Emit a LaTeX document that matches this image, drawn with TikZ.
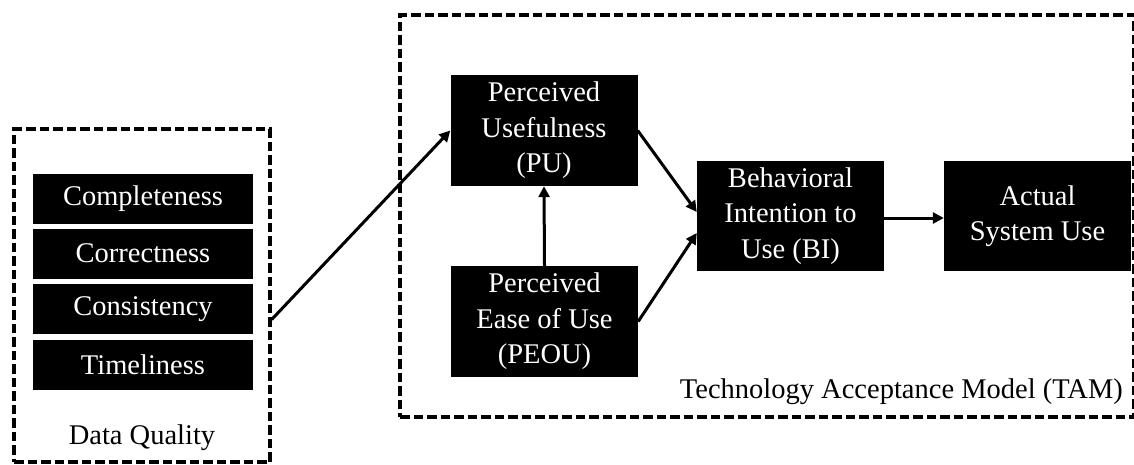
\documentclass[tikz,border=0pt]{standalone}
\usepackage{fontspec}
\setmainfont{Liberation Serif}
\usetikzlibrary{arrows.meta}
\begin{document}
\begin{tikzpicture}[x=1pt,y=-1pt,
  blk/.style={fill=black,text=white,inner sep=0pt,align=center,
    font=\fontsize{28.5}{35.5}\selectfont},
  dqitem/.style={blk,minimum width=220pt,minimum height=50pt},
  tambox/.style={blk,minimum width=187pt,minimum height=111pt},
  frame/.style={draw=black,line width=3.4pt,dash pattern=on 9.5pt off 4pt},
  lbl/.style={font=\fontsize{28.5}{35.5}\selectfont,inner sep=0pt},
  arr/.style={line width=3pt,-{Triangle[length=11pt,width=11pt]}}]
\useasboundingbox (0,0) rectangle (1134,464);
% frames
\node[frame,minimum width=256pt,minimum height=333pt,inner sep=0pt] (DQ) at (142,295.5) {};
\node[frame,minimum width=734pt,minimum height=402pt,inner sep=0pt] (TAM) at (767,216) {};
% data quality items
\node[dqitem] (c1) at (143,199) {Completeness};
\node[dqitem] (c2) at (143,253.5) {Correctness};
\node[dqitem] (c3) at (143,309) {Consistency};
\node[dqitem] (c4) at (143,365) {Timeliness};
\node[lbl] (dql) at (142,438) {Data Quality};
% TAM
\node[tambox] (PU) at (544,130.5) {Perceived\\Usefulness\\(PU)};
\node[tambox] (PEOU) at (544.5,321.5) {Perceived\\Ease of Use\\(PEOU)};
\node[tambox,minimum height=110pt] (BI) at (790.5,216) {Behavioral\\Intention to\\Use (BI)};
\node[tambox,minimum height=110pt] (ASU) at (1037.5,216) {Actual\\System Use};
\node[lbl,anchor=east] (taml) at (1123,392) {Technology Acceptance Model (TAM)};
% arrows
\coordinate (dqout) at ([yshift=-24pt]DQ.east);
\draw[arr] (dqout) -- (PU.west);
\draw[arr] (PEOU.north) -- (PU.south);
\draw[arr] (PU.east) -- ([yshift=4pt]BI.west);
\draw[arr] (PEOU.east) -- ([yshift=-17pt]BI.west);
\draw[arr] ([yshift=-2pt]BI.east) -- ([yshift=-2pt]ASU.west);
\end{tikzpicture}
\end{document}
